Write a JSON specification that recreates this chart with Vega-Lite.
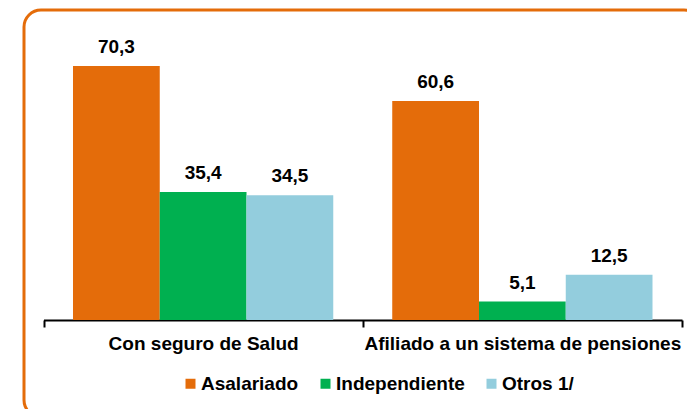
{
  "$schema": "https://vega.github.io/schema/vega-lite/v6.json",
  "width": 677,
  "height": 407,
  "autosize": "none",
  "padding": {"left": 24, "top": 10, "right": 0, "bottom": 0},
  "background": "white",
  "config": {
    "locale": {"number": {"decimal": ",", "thousands": ".", "grouping": [3], "currency": ["", ""]}},
    "view": {"stroke": "#E46C0A", "strokeWidth": 3, "cornerRadius": 17},
    "font": "Liberation Sans"
  },
  "data": {
    "values": [
      {"categoria": "Con seguro de Salud", "tipo": "Asalariado", "valor": 70.3},
      {"categoria": "Con seguro de Salud", "tipo": "Independiente", "valor": 35.4},
      {"categoria": "Con seguro de Salud", "tipo": "Otros 1/", "valor": 34.5},
      {"categoria": "Afiliado a un sistema de pensiones", "tipo": "Asalariado", "valor": 60.6},
      {"categoria": "Afiliado a un sistema de pensiones", "tipo": "Independiente", "valor": 5.1},
      {"categoria": "Afiliado a un sistema de pensiones", "tipo": "Otros 1/", "valor": 12.5}
    ]
  },
  "encoding": {
    "x": {
      "field": "categoria",
      "type": "nominal",
      "sort": ["Con seguro de Salud", "Afiliado a un sistema de pensiones"],
      "scale": {"paddingInner": 0, "paddingOuter": 0, "range": [19.5, 658]},
      "axis": {
        "title": null,
        "orient": "bottom",
        "offset": -97,
        "grid": false,
        "domainColor": "black",
        "domainWidth": 2,
        "tickColor": "black",
        "tickWidth": 2,
        "tickSize": 7,
        "tickBand": "extent",
        "labelAngle": 0,
        "labelLimit": 0,
        "labelFont": "Liberation Sans",
        "labelFontSize": 19,
        "labelFontWeight": "bold",
        "labelColor": "black",
        "labelPadding": 7
      }
    },
    "xOffset": {
      "field": "tipo",
      "type": "nominal",
      "sort": ["Asalariado", "Independiente", "Otros 1/"],
      "scale": {"paddingInner": 0, "paddingOuter": 0.34}
    },
    "y": {
      "field": "valor",
      "type": "quantitative",
      "scale": {"domain": [-26.85, 85.8], "nice": false, "zero": false},
      "axis": null
    }
  },
  "layer": [
    {
      "mark": {"type": "bar"},
      "encoding": {
        "color": {
          "field": "tipo",
          "type": "nominal",
          "sort": ["Asalariado", "Independiente", "Otros 1/"],
          "scale": {"domain": ["Asalariado", "Independiente", "Otros 1/"], "range": ["#E46C0A", "#00B050", "#93CDDD"]},
          "legend": {
            "orient": "none",
            "legendX": 157,
            "legendY": 364,
            "direction": "horizontal",
            "title": null,
            "symbolType": "square",
            "symbolSize": 100,
            "symbolStrokeWidth": 0,
            "labelFont": "Liberation Sans",
            "labelFontSize": 19,
            "labelFontWeight": "bold",
            "labelColor": "black",
            "labelOffset": 1,
            "columnPadding": 17
          }
        }
      }
    },
    {
      "mark": {"type": "text", "dy": -13, "baseline": "alphabetic", "fontSize": 19, "fontWeight": "bold", "font": "Liberation Sans", "color": "black"},
      "encoding": {
        "text": {"field": "valor", "type": "quantitative", "format": ".1f"}
      }
    }
  ]
}
